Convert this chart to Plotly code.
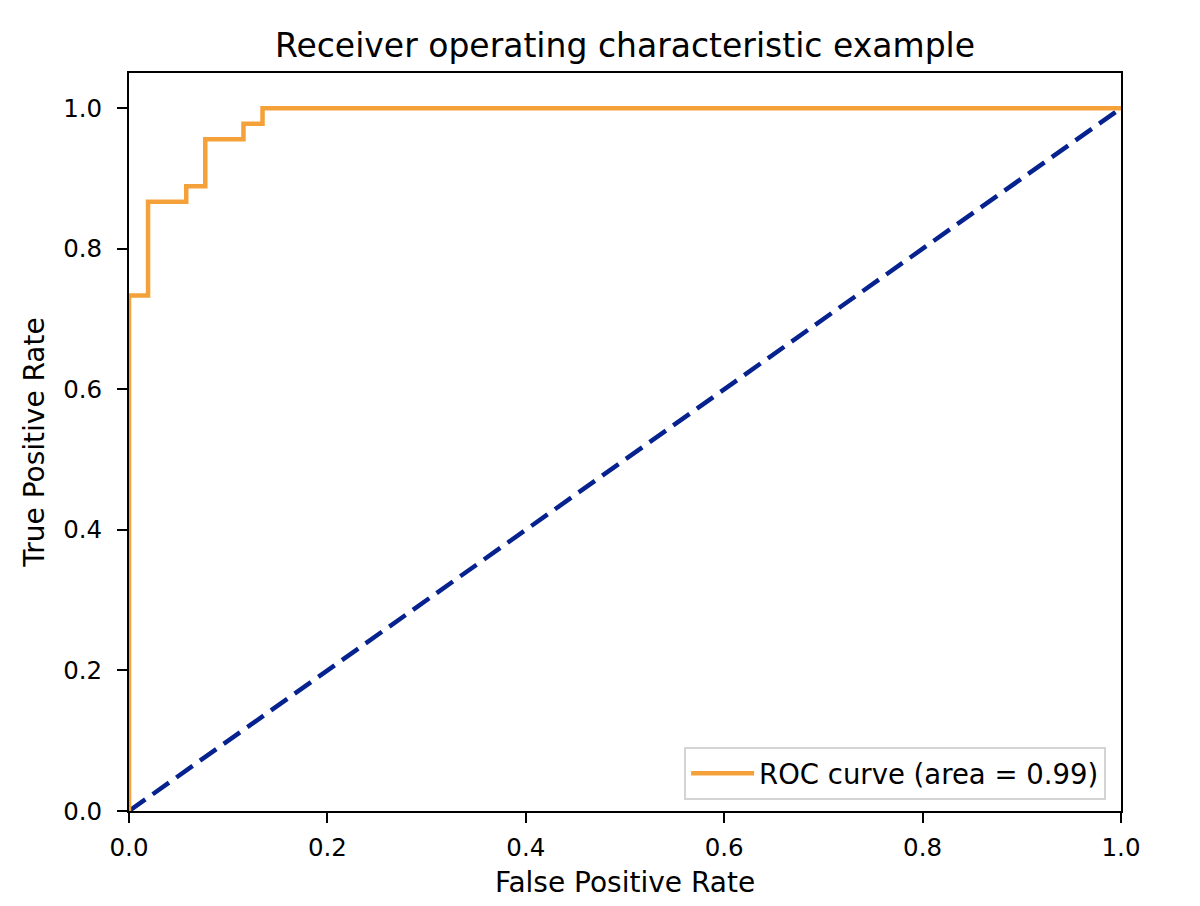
import plotly.graph_objects as go

# ROC curve data (step points)
fpr = [0.0, 0.0, 0.0192, 0.0192, 0.0577, 0.0577, 0.0769, 0.0769, 0.1154, 0.1154, 0.1346, 0.1346, 1.0]
tpr = [0.0, 0.7333, 0.7333, 0.8667, 0.8667, 0.8889, 0.8889, 0.9556, 0.9556, 0.9778, 0.9778, 1.0, 1.0]
diag_x = [0.0, 1.0]
diag_y = [0.0, 1.0]
roc_label = "ROC curve (area = 0.99)"
x_ticks = [0.0, 0.2, 0.4, 0.6, 0.8, 1.0]
y_ticks = [0.0, 0.2, 0.4, 0.6, 0.8, 1.0]

orange = "#F5A13A"
navy = "#06228F"
FONT = "DejaVu Sans"

fig = go.Figure()
fig.add_trace(go.Scatter(x=diag_x, y=diag_y, mode="lines",
                         line=dict(color=navy, width=4.5, dash="20px,9px"),
                         showlegend=False))
fig.add_trace(go.Scatter(x=fpr, y=tpr, mode="lines", name=roc_label,
                         line=dict(color=orange, width=4.5)))

axis_common = dict(showline=True, linecolor="black", linewidth=2, mirror=True,
                   ticks="outside", ticklen=10, tickwidth=2, tickcolor="black",
                   showgrid=False, zeroline=False,
                   tickfont=dict(family=FONT, size=24.5, color="black"),
                   tickformat=".1f")

fig.update_layout(
    width=1200, height=906,
    paper_bgcolor="white", plot_bgcolor="white",
    margin=dict(l=121, r=87, t=65, b=103),
    title=dict(text="Receiver operating characteristic example",
               xref="paper", x=0.5, xanchor="center",
               y=1 - 37 / 906, yanchor="middle",
               font=dict(family=FONT, size=33, color="black")),
    xaxis=dict(range=[0, 1], tickvals=x_ticks, ticklabelstandoff=4,
               title=dict(text="False Positive Rate", standoff=11,
                          font=dict(family=FONT, size=28, color="black")),
               **axis_common),
    yaxis=dict(range=[0, 1.05], tickvals=y_ticks, ticklabelstandoff=10,
               title=dict(text="True Positive Rate", standoff=10,
                          font=dict(family=FONT, size=28, color="black")),
               **axis_common),
    legend=dict(x=0.985, y=0.015, xanchor="right", yanchor="bottom",
                bgcolor="rgba(255,255,255,0.8)", bordercolor="#d4d4d4", borderwidth=2,
                font=dict(family=FONT, size=27.5, color="black"),
                itemwidth=63),
    showlegend=True,
)

fig.write_html("out.html")
